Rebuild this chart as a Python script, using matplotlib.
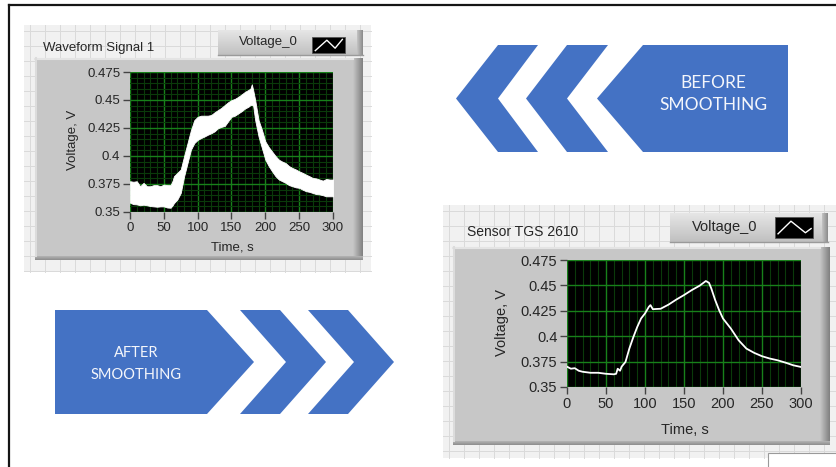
import numpy as np
import matplotlib
matplotlib.use("Agg")
import matplotlib.pyplot as plt
from matplotlib.patches import Polygon, Rectangle
from matplotlib.colors import LinearSegmentedColormap

W, H = 837, 467

# ---- raw waveform (envelope of the noisy trace) ----
raw_t = [0, 5, 10, 15, 20, 25, 30, 35, 40, 45, 50, 55, 60, 63, 65, 70, 75, 80, 85, 90,
         95, 100, 105, 110, 115, 120, 125, 130, 135, 140, 145, 150, 155, 160, 165, 170,
         175, 178, 180, 182, 185, 190, 195, 200, 205, 210, 215, 220, 225, 230, 235, 240,
         245, 250, 255, 260, 265, 270, 275, 280, 285, 290, 295, 300]
raw_upper = [0.3775, 0.377, 0.3775, 0.373, 0.376, 0.373, 0.373, 0.374, 0.374, 0.373,
             0.3745, 0.374, 0.374, 0.378, 0.382, 0.385, 0.388, 0.400, 0.4115, 0.423,
             0.432, 0.435, 0.436, 0.436, 0.436, 0.4366, 0.439, 0.441, 0.443, 0.4455,
             0.448, 0.4499, 0.451, 0.4528, 0.455, 0.4573, 0.459, 0.4602, 0.464, 0.459,
             0.450, 0.432, 0.4233, 0.413, 0.408, 0.404, 0.400, 0.3967, 0.395, 0.3937,
             0.391, 0.3893, 0.388, 0.3863, 0.385, 0.3834, 0.382, 0.3804, 0.380, 0.379,
             0.378, 0.3795, 0.379, 0.379]
raw_lower = [0.3583, 0.357, 0.3568, 0.356, 0.3565, 0.356, 0.3553, 0.355, 0.3547, 0.355,
             0.355, 0.354, 0.3538, 0.356, 0.358, 0.3612, 0.367, 0.3819, 0.3937, 0.4056,
             0.4115, 0.4144, 0.416, 0.4174, 0.419, 0.4203, 0.422, 0.4248, 0.426, 0.4268,
             0.431, 0.435, 0.436, 0.438, 0.440, 0.4424, 0.444, 0.4455, 0.4455, 0.445,
             0.432, 0.4174, 0.407, 0.3967, 0.391, 0.3863, 0.382, 0.379, 0.3775, 0.376,
             0.374, 0.373, 0.372, 0.3716, 0.370, 0.3686, 0.368, 0.367, 0.366, 0.3657,
             0.365, 0.364, 0.364, 0.364]

# ---- smoothed sensor trace ----
smooth_t = [0, 5, 10, 15, 20, 30, 40, 50, 60, 63, 65, 68, 70, 75, 80, 85, 90, 95, 100,
            105, 107, 110, 120, 130, 140, 150, 160, 170, 178, 182, 185, 190, 195, 200,
            210, 220, 230, 240, 250, 260, 270, 280, 290, 300]
smooth_v = [0.370, 0.368, 0.3685, 0.366, 0.365, 0.364, 0.364, 0.363, 0.3625, 0.363,
            0.368, 0.366, 0.370, 0.3747, 0.388, 0.399, 0.409, 0.4175, 0.4224, 0.429,
            0.4306, 0.4266, 0.427, 0.431, 0.436, 0.4405, 0.4454, 0.4497, 0.4543, 0.4526,
            0.447, 0.4355, 0.4257, 0.4174, 0.4076, 0.396, 0.3878, 0.3836, 0.3803, 0.378,
            0.3763, 0.374, 0.3714, 0.3697]

x_ticks = [0, 50, 100, 150, 200, 250, 300]
y_ticks = [0.35, 0.375, 0.4, 0.425, 0.45, 0.475]
y_ticklabels = ["0.35", "0.375", "0.4", "0.425", "0.45", "0.475"]

panel_titles = ["Waveform Signal 1", "Sensor TGS 2610"]
legend_label = "Voltage_0"
before_text = "BEFORE\nSMOOTHING"
after_text = "AFTER\nSMOOTHING"

UI_FONT = "Liberation Sans"
BANNER_FONT = "Lato"
BLUE = "#4472c4"
TXT = "#262626"

fig = plt.figure(figsize=(W / 100, H / 100), dpi=100)
fig.patch.set_facecolor("white")

bg = fig.add_axes([0, 0, 1, 1])
bg.set_xlim(0, W)
bg.set_ylim(H, 0)
bg.axis("off")


def px_axes(x0, y0, x1, y1):
    return fig.add_axes([x0 / W, 1 - y1 / H, (x1 - x0) / W, (y1 - y0) / H])


def gradient(x0, y0, x1, y1, c0, c1, horizontal=False, z=1):
    cmap = LinearSegmentedColormap.from_list("g", [c0, c1])
    g = np.linspace(0, 1, 64)
    img = g[None, :] if horizontal else g[:, None]
    bg.imshow(img, cmap=cmap, extent=(x0, x1, y1, y0), aspect="auto",
              interpolation="bilinear", zorder=z)


def grid_background(x0, y0, x1, y1, step=15):
    bg.add_patch(Rectangle((x0, y0), x1 - x0, y1 - y0, fc="#f1f1f1", ec="none", zorder=0.5))
    for x in np.arange(x0 + 6, x1, step):
        bg.plot([x, x], [y0, y1], color="#dadada", lw=0.7, zorder=0.6)
    for y in np.arange(y0 + 6, y1, step):
        bg.plot([x0, x1], [y, y], color="#dadada", lw=0.7, zorder=0.6)


def raised_panel(x0, y0, x1, y1):
    bg.add_patch(Rectangle((x0, y0), x1 - x0, y1 - y0, fc="#c7c7c7", ec="none", zorder=1))
    gradient(x1 - 10, y0, x1, y1, "#c7c7c7", "#7f7f7f", horizontal=True, z=1.1)
    gradient(x0, y1 - 4, x1, y1, "#b5b5b5", "#8c8c8c", z=1.1)
    bg.plot([x0, x1 - 10], [y0 + 1, y0 + 1], color="#e4e4e4", lw=1.5, zorder=1.2)
    bg.plot([x0 + 1, x0 + 1], [y0, y1 - 4], color="#dcdcdc", lw=1.5, zorder=1.2)


def legend_button(x0, y0, x1, y1, tx, fs, ix0, iy0, ix1, iy1, icon):
    gradient(x0, y0, x1, y1, "#e6e6e6", "#c0c0c0", z=1.5)
    gradient(x1 - 6, y0, x1, y1, "#c4c4c4", "#8a8a8a", horizontal=True, z=1.6)
    bg.plot([x0, x1], [y1, y1], color="#9a9a9a", lw=1, zorder=1.6)
    bg.text(tx, (y0 + y1) / 2, legend_label, fontsize=fs, family=UI_FONT,
            color=TXT, ha="center", va="center", zorder=2)
    bg.add_patch(Rectangle((ix0, iy0), ix1 - ix0, iy1 - iy0, fc="black",
                           ec="#555555", lw=0.6, zorder=2))
    xs = [ix0 + f * (ix1 - ix0) for f in icon[0]]
    ys = [iy0 + f * (iy1 - iy0) for f in icon[1]]
    bg.plot(xs, ys, color="white", lw=1.0, zorder=2.1)


# outer frame
bg.plot([9, W], [5, 5], color="#151515", lw=1.6, zorder=5)
bg.plot([9, 9], [5, H], color="#151515", lw=1.6, zorder=5)

# ---- panel 1 (raw) ----
grid_background(24, 25, 371, 272)
raised_panel(35, 58, 363, 260)
bg.text(43, 48, panel_titles[0], fontsize=9.5, family=UI_FONT, color=TXT,
        ha="left", va="center", zorder=2)
legend_button(218, 30, 363, 55, 268, 9.5, 312, 37, 345, 53,
              ([0.1, 0.45, 0.7, 0.92], [0.85, 0.2, 0.7, 0.15]))

# ---- panel 2 (smoothed) ----
grid_background(443, 205, W, 458)
raised_panel(453, 247, 830, 445)
bg.text(467, 232, panel_titles[1], fontsize=10, family=UI_FONT, color=TXT,
        ha="left", va="center", zorder=2)
legend_button(670, 213, 828, 242, 725, 10.5, 775, 217, 813, 238,
              ([0.08, 0.42, 0.8, 0.95], [0.8, 0.2, 0.75, 0.55]))
bg.add_patch(Rectangle((768, 453), W - 768, 20, fc="white", ec="#9a9a9a", lw=0.8, zorder=2))

# ---- banners ----
bg.add_patch(Polygon([(643, 45), (788, 45), (788, 152), (643, 152), (597, 98.5)],
                     closed=True, fc=BLUE, ec="none", zorder=3))
bg.add_patch(Polygon([(567, 45), (608, 45), (567, 98.5), (608, 152), (567, 152), (526, 98.5)],
                     closed=True, fc=BLUE, ec="none", zorder=3))
bg.add_patch(Polygon([(498, 45), (538, 45), (498, 98.5), (538, 152), (498, 152), (456, 98.5)],
                     closed=True, fc=BLUE, ec="none", zorder=3))
bg.text(713, 94, before_text, fontsize=12.5, family=BANNER_FONT, color="#f4f6fb",
        ha="center", va="center", linespacing=1.5, zorder=4)

bg.add_patch(Polygon([(55, 310), (207, 310), (254, 362), (207, 414), (55, 414)],
                     closed=True, fc=BLUE, ec="none", zorder=3))
bg.add_patch(Polygon([(240, 310), (280, 310), (326, 362), (280, 414), (240, 414), (286, 362)],
                     closed=True, fc=BLUE, ec="none", zorder=3))
bg.add_patch(Polygon([(308, 310), (348, 310), (394, 362), (348, 414), (308, 414), (354, 362)],
                     closed=True, fc=BLUE, ec="none", zorder=3))
bg.text(136, 364, after_text, fontsize=10.5, family=BANNER_FONT, color="#f4f6fb",
        ha="center", va="center", linespacing=1.75, zorder=4)


def style_plot(ax, fs, minor_y):
    ax.set_facecolor("black")
    ax.set_xlim(0, 300)
    ax.set_ylim(0.35, 0.475)
    ax.set_xticks(x_ticks)
    ax.set_yticks(y_ticks)
    ax.set_yticklabels(y_ticklabels)
    ax.set_xticks(np.arange(0, 301, 10), minor=True)
    if minor_y:
        ax.set_yticks(np.arange(0.35, 0.4751, 0.005), minor=True)
    ax.grid(which="major", color="#18801a", lw=1.0)
    ax.grid(which="minor", color="#0a3a0a", lw=0.8)
    ax.set_axisbelow(True)
    for s in ax.spines.values():
        s.set_visible(False)
    ax.tick_params(which="major", length=5, width=1, color="#444444",
                   labelsize=fs, labelcolor=TXT, pad=2)
    ax.tick_params(which="minor", length=0)
    for lab in ax.get_xticklabels() + ax.get_yticklabels():
        lab.set_family(UI_FONT)


ax1 = px_axes(130, 72, 333, 212)
style_plot(ax1, 9.5, True)
ax1.fill_between(raw_t, raw_lower, raw_upper, color="white", lw=0.6, ec="white", zorder=3)
bg.text(73, 140, "Voltage, V", rotation=90, fontsize=9.5, family=UI_FONT, color=TXT,
        ha="center", va="center", zorder=2)
bg.text(232, 248, "Time, s", fontsize=9.5, family=UI_FONT, color=TXT,
        ha="center", va="center", zorder=2)

ax2 = px_axes(567, 260, 801, 387)
style_plot(ax2, 10.5, False)
ax2.plot(smooth_t, smooth_v, color="white", lw=1.3, zorder=3)
bg.text(502, 322, "Voltage, V", rotation=90, fontsize=10.5, family=UI_FONT, color=TXT,
        ha="center", va="center", zorder=2)
bg.text(685, 430, "Time, s", fontsize=10.5, family=UI_FONT, color=TXT,
        ha="center", va="center", zorder=2)

bg.set_xlim(0, W)
bg.set_ylim(H, 0)

fig.savefig("out.png", dpi=100, facecolor="white")
